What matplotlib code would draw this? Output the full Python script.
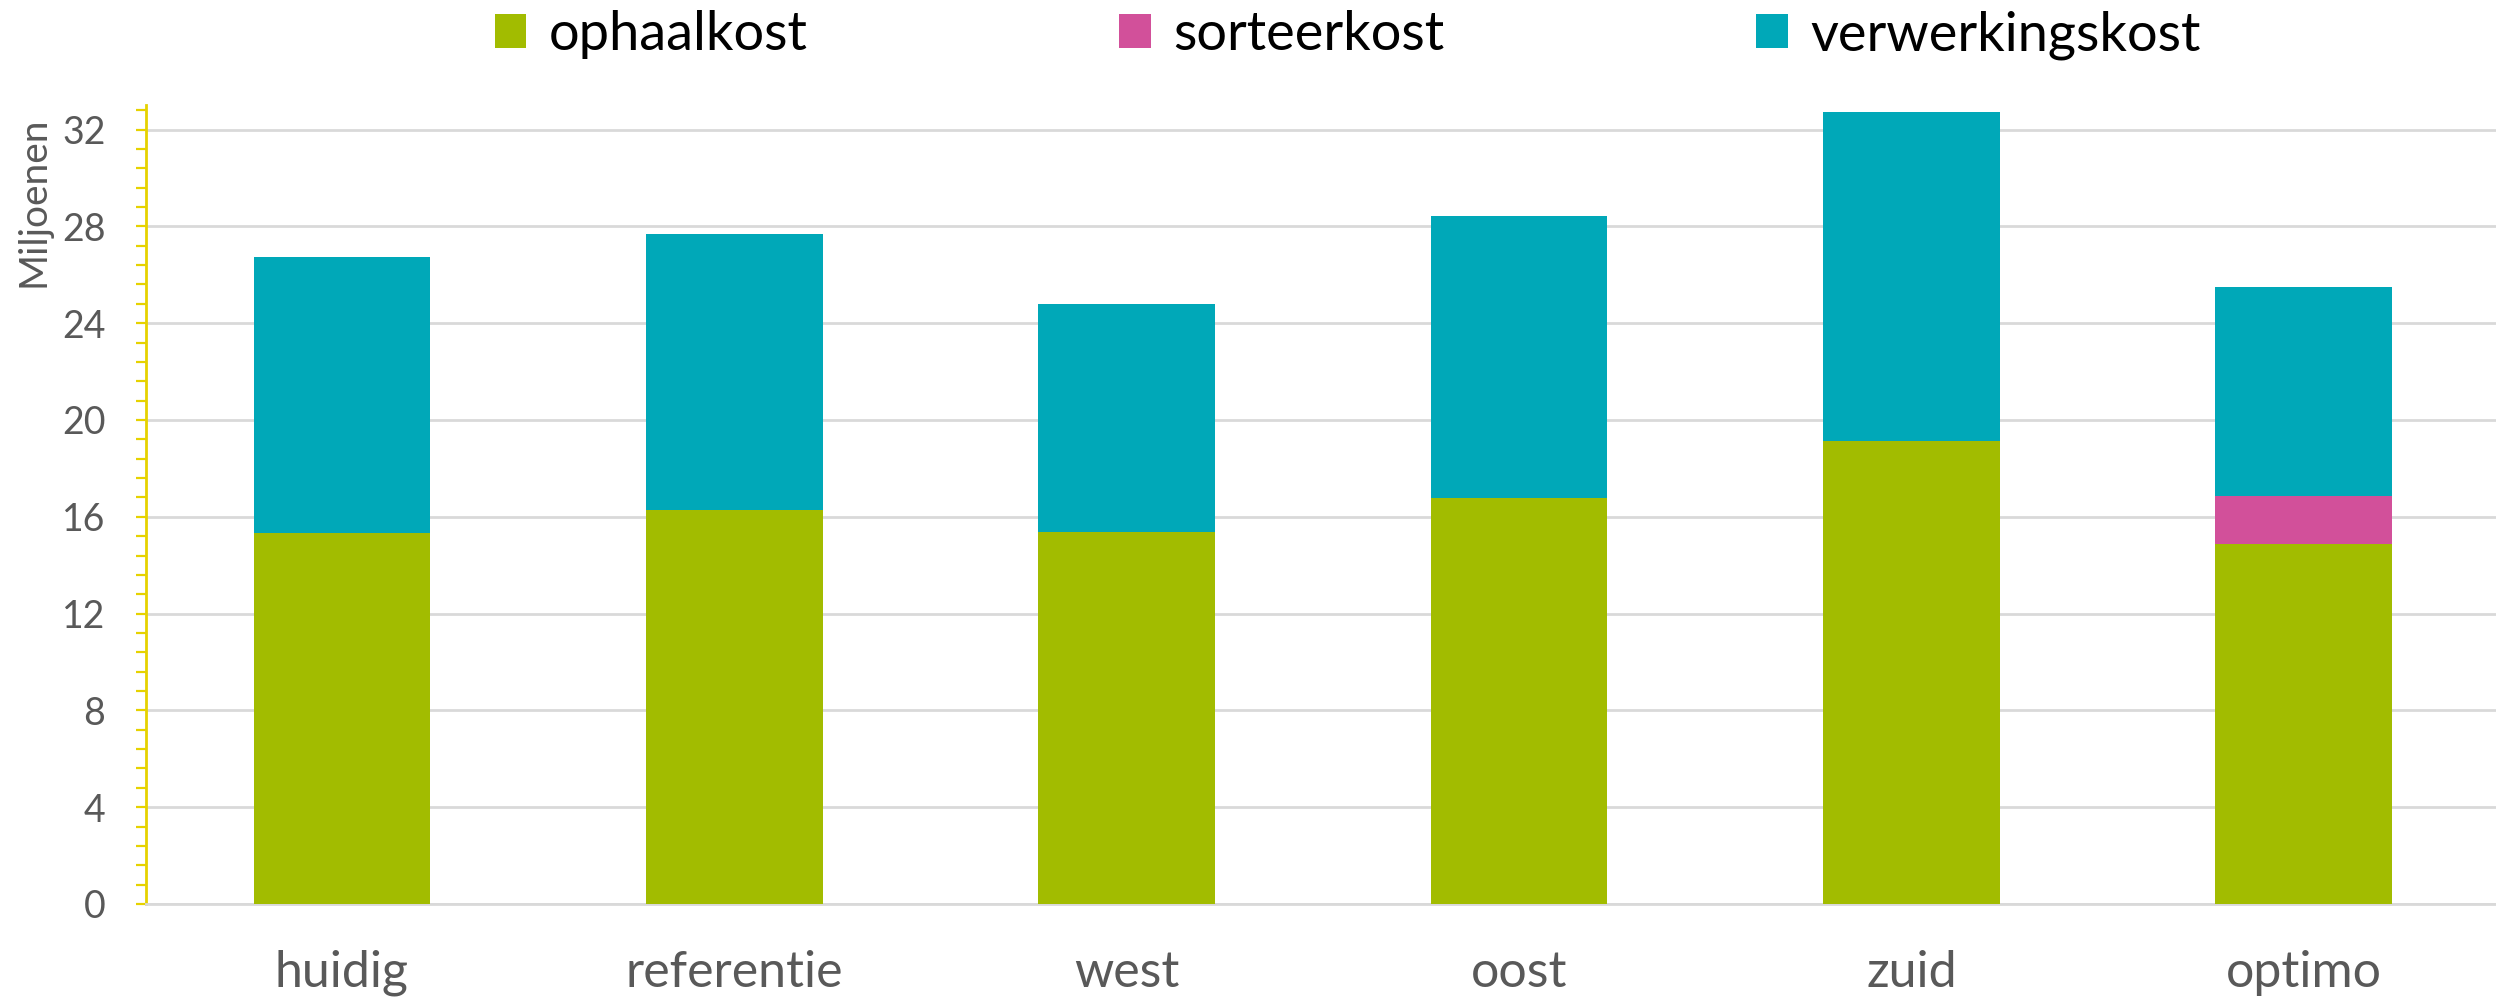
import numpy as np
import matplotlib
matplotlib.use("Agg")
import matplotlib.pyplot as plt
from matplotlib.ticker import MultipleLocator

# =========================
# 1. DATA (miljoenen)
# =========================
categories = ["huidig", "referentie", "west", "oost", "zuid", "optimo"]

ophaalkost      = [15.33, 16.28, 15.37, 16.79, 19.13, 14.88]
sorteerkost     = [0.0,   0.0,   0.0,   0.0,   0.0,   1.99]
verwerkingskost = [11.39, 11.39, 9.41,  11.64, 13.58, 8.61]

series_names = ["ophaalkost", "sorteerkost", "verwerkingskost"]
colors = ["#A2BC00", "#D2509A", "#00A8B8"]

y_ticks = [0, 4, 8, 12, 16, 20, 24, 28, 32]

# =========================
# 2. STYLE
# =========================
plt.rcParams["font.family"] = ["Lato", "DejaVu Sans"]
text_grey = "#595959"
grid_grey = "#D9D9D9"
axis_yellow = "#E6D200"

fig = plt.figure(figsize=(24.96, 9.99), dpi=100)
ax = fig.add_axes([0.0584, 0.0951, 0.9416, 0.7994])

# =========================
# 3. STACKED BARS
# =========================
x = np.arange(len(categories))
bottom = np.zeros(len(categories))
for name, vals, col in zip(series_names, [ophaalkost, sorteerkost, verwerkingskost], colors):
    ax.bar(x, vals, width=0.45, bottom=bottom, color=col, label=name, zorder=3)
    bottom += np.array(vals)

# =========================
# 4. AXES
# =========================
ax.set_xlim(-0.5, 5.49)
ax.set_ylim(0, 33)
ax.set_yticks(y_ticks)
ax.yaxis.set_minor_locator(MultipleLocator(0.8))
ax.set_xticks(x)
ax.set_xticklabels(categories)

ax.grid(axis="y", which="major", color=grid_grey, linewidth=2, zorder=0)
ax.set_axisbelow(True)

for side in ["top", "right"]:
    ax.spines[side].set_visible(False)
ax.spines["left"].set_color(axis_yellow)
ax.spines["left"].set_linewidth(2)
ax.spines["bottom"].set_color(grid_grey)
ax.spines["bottom"].set_linewidth(2)

ax.tick_params(axis="y", which="both", direction="out", color=axis_yellow,
               length=7, width=1.6, labelsize=27, labelcolor=text_grey, pad=22)
ax.tick_params(axis="x", length=0, labelsize=36, labelcolor=text_grey, pad=33)

ax.set_ylabel("Miljoenen", fontsize=28, color=text_grey)
ax.yaxis.set_label_coords(-0.040, 0.879)

# =========================
# 5. LEGEND
# =========================
ax.legend(loc="center", bbox_to_anchor=(0.54, 0.965), bbox_transform=fig.transFigure,
          ncol=3, frameon=False, fontsize=39, handlelength=0.58, handleheight=0.6,
          handletextpad=0.42, columnspacing=5.75, labelcolor="black")

fig.savefig("out.png", dpi=100, facecolor="white")
